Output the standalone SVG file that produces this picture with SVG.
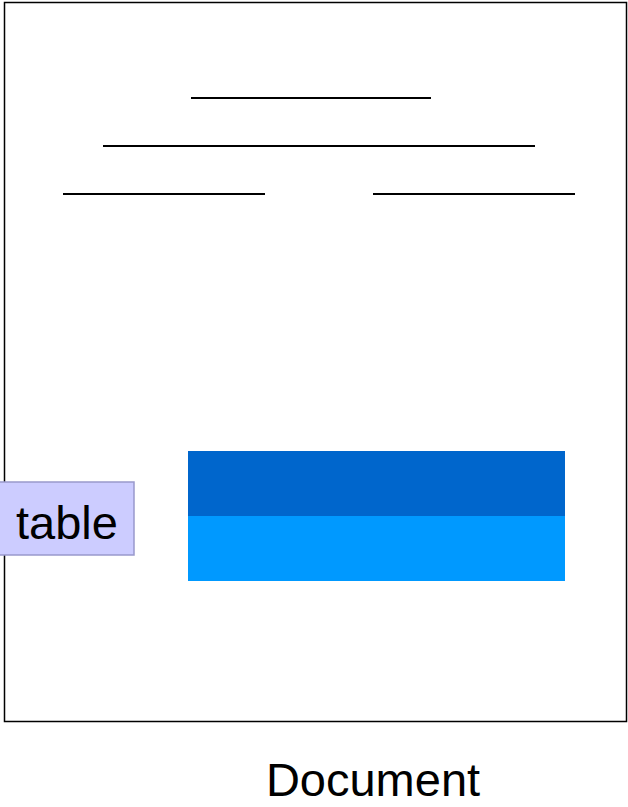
<svg xmlns="http://www.w3.org/2000/svg" width="628" height="807" viewBox="0 0 628 807">
<style>
.ln{stroke:#000;stroke-width:2;fill:none}
.lbl{font-family:"Liberation Sans",Arial,sans-serif;fill:#000}
</style>
<rect width="628" height="807" fill="#fff"/>
<g id="document">
<rect x="4.5" y="2.5" width="622" height="719" fill="#fff" stroke="#000" stroke-width="1.5"/>
<line class="ln" x1="191" y1="98" x2="431" y2="98"/>
<line class="ln" x1="103" y1="146" x2="535" y2="146"/>
<line class="ln" x1="63" y1="194" x2="265" y2="194"/>
<line class="ln" x1="373" y1="194" x2="575" y2="194"/>
<text class="lbl" x="373" y="796" font-size="47" text-anchor="middle">Document</text>
</g>
<g id="tableShape">
<rect x="188" y="451" width="377" height="65" fill="#0066CC"/>
<rect x="188" y="516" width="377" height="65" fill="#0099FF"/>
</g>
<g id="tableLabel">
<rect x="-1" y="482" width="135" height="73" fill="#CCCCFF" stroke="#9999CC" stroke-width="1.5"/>
<text class="lbl" x="67" y="539" font-size="47" text-anchor="middle">table</text>
</g>
<g id="connectors"/>
</svg>
